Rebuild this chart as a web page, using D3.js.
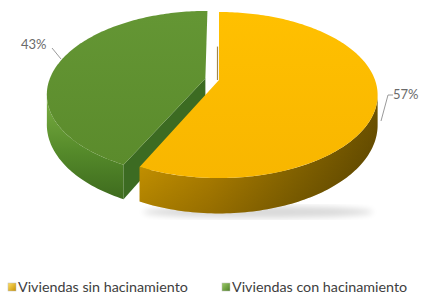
<!DOCTYPE html>
<html><head><meta charset="utf-8">
<script src="https://cdn.jsdelivr.net/npm/d3@7"></script>
<style>html,body{margin:0;padding:0;background:#fff;}svg{display:block;}</style>
</head><body>
<script>
const categories = ["Viviendas sin hacinamiento", "Viviendas con hacinamiento"];
const values = [57, 43];
const valueLabels = ["57%", "43%"];

const W = 425, H = 299;
const svg = d3.select("body").append("svg").attr("width", W).attr("height", H);
const defs = svg.append("defs");

// projection parameters (perspective 3D pie)
const cx = 219, cy = 80, RS = 156, U = 80.3, Q = 0.181, T = 29;
function proj(a, r, off, bottom) {
  const X = r * Math.sin(a) + off[0], Z = r * Math.cos(a) + off[1];
  const w = 1 + Q * Z;
  return [cx + RS * X / w, cy - U * Z / w + (bottom ? T / w : 0)];
}
function arcPts(a0, a1, off, bottom) {
  const n = Math.max(2, Math.ceil(Math.abs(a1 - a0) / 0.02));
  return d3.range(n + 1).map(i => proj(a0 + (a1 - a0) * i / n, 1, off, bottom));
}
const line = d3.line();

const pie = d3.pie().sort(null).startAngle(0).endAngle(2 * Math.PI);
const arcs = pie(values);
const explode = [0, 0.09];
arcs.forEach((d, i) => {
  const mid = (d.startAngle + d.endAngle) / 2;
  d.off = [explode[i] * Math.sin(mid), explode[i] * Math.cos(mid)];
});

function lin(id, x1, y1, x2, y2, stops, user) {
  const g = defs.append("linearGradient").attr("id", id)
    .attr("x1", x1).attr("y1", y1).attr("x2", x2).attr("y2", y2);
  if (user) g.attr("gradientUnits", "userSpaceOnUse");
  stops.forEach(s => g.append("stop").attr("offset", s[0]).attr("stop-color", s[1]));
}
lin("ySide", 137, 0, 380, 0, [[0, "#E4A900"], [0.3, "#C89200"], [0.65, "#997300"], [1, "#6E5300"]], true);
lin("gSide", 0, 0, 0, 1, [[0, "#9CCB68"], [0.12, "#74A83E"], [0.55, "#558A2A"], [1, "#3E6B1E"]]);
lin("yTop", 0, 0, 0, 1, [[0, "#FFC000"], [1, "#F8B600"]]);
lin("gTop", 0, 0, 0, 1, [[0, "#649634"], [1, "#5B8B2C"]]);
lin("lgY", 0, 0, 1, 1, [[0, "#FFE066"], [1, "#C89000"]]);
lin("lgG", 0, 0, 1, 1, [[0, "#9CCB68"], [1, "#4E8026"]]);
const shade = defs.append("linearGradient").attr("id", "shadeV").attr("x1", 0).attr("y1", 0).attr("x2", 0).attr("y2", 1);
shade.append("stop").attr("offset", 0).attr("stop-color", "#000").attr("stop-opacity", 0);
shade.append("stop").attr("offset", 1).attr("stop-color", "#000").attr("stop-opacity", 0.25);
defs.append("filter").attr("id", "blur").append("feGaussianBlur").attr("stdDeviation", 3);

svg.append("ellipse").attr("cx", 258).attr("cy", 212).attr("rx", 115).attr("ry", 6)
  .attr("fill", "#000").attr("opacity", 0.15).attr("filter", "url(#blur)");

const g = svg.append("g");
const s0 = 100 * Math.PI / 180, s1 = 260 * Math.PI / 180;
function side(d) {
  const a0 = Math.max(d.startAngle, s0), a1 = Math.min(d.endAngle, s1);
  if (a1 <= a0) return null;
  const top = arcPts(a0, a1, d.off, false), bot = arcPts(a1, a0, d.off, true);
  return line(top.concat(bot)) + "Z";
}
function cutFace(d, a) {
  const v = proj(0, 0, d.off, false), vb = proj(0, 0, d.off, true);
  const r = proj(a, 1, d.off, false), rb = proj(a, 1, d.off, true);
  return line([v, r, rb, vb]) + "Z";
}
function topFace(d) {
  const v = proj(0, 0, d.off, false);
  return line([v].concat(arcPts(d.startAngle, d.endAngle, d.off, false))) + "Z";
}

const green = arcs[1], yellow = arcs[0];
g.append("path").attr("d", side(green)).attr("fill", "url(#gSide)");
g.append("path").attr("d", cutFace(green, green.startAngle)).attr("fill", "#3C6B22");
g.append("path").attr("d", side(yellow)).attr("fill", "url(#ySide)");
g.append("path").attr("d", side(yellow)).attr("fill", "url(#shadeV)");
g.append("path").attr("d", topFace(yellow)).attr("fill", "url(#yTop)");
const yv = proj(0, 0, yellow.off, false), yr = proj(0, 0.45, yellow.off, false);
g.append("line").attr("x1", yv[0] - 1.5).attr("y1", yv[1]).attr("x2", yr[0] - 1.5).attr("y2", yr[1])
  .attr("stroke", "#8A6A20").attr("stroke-width", 1.2).attr("opacity", 0.8);
g.append("path").attr("d", topFace(green)).attr("fill", "url(#gTop)");

// labels
const lab = svg.append("g").attr("font-family", "Lato, 'Open Sans', sans-serif").attr("font-size", 13).attr("fill", "#6a6a6a");
lab.append("path").attr("d", "M393,95 L388,95 L381,121").attr("fill", "none").attr("stroke", "#9a9a9a").attr("stroke-width", 1);
lab.append("text").attr("x", 393).attr("y", 99).text(valueLabels[0]);
lab.append("path").attr("d", "M52,48 L61,59").attr("fill", "none").attr("stroke", "#9a9a9a").attr("stroke-width", 1);
lab.append("text").attr("x", 21).attr("y", 49).text(valueLabels[1]);

// legend
const legX = [8, 222];
const leg = svg.append("g").attr("font-family", "Lato, 'Open Sans', sans-serif").attr("font-size", 14.3).attr("fill", "#404040");
categories.forEach((c, i) => {
  leg.append("rect").attr("x", legX[i]).attr("y", 283).attr("width", 8).attr("height", 8)
    .attr("fill", i === 0 ? "url(#lgY)" : "url(#lgG)").attr("stroke", "#bbb").attr("stroke-width", 0.5);
  leg.append("text").attr("x", legX[i] + 10).attr("y", 292).text(c);
});
</script>
</body></html>
